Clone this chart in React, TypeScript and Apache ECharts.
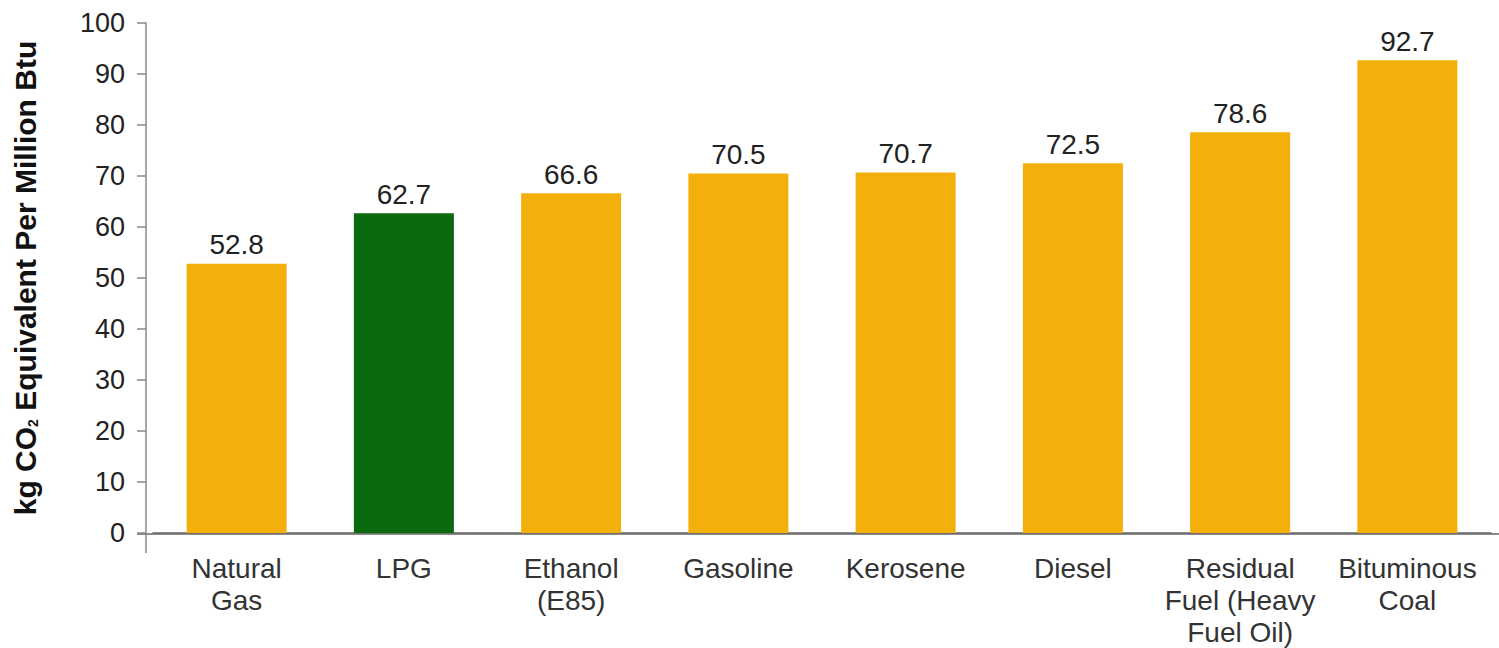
import React, { useEffect, useRef } from "react";
import * as echarts from "echarts";

const categories = [
  "Natural\nGas",
  "LPG",
  "Ethanol\n(E85)",
  "Gasoline",
  "Kerosene",
  "Diesel",
  "Residual\nFuel (Heavy\nFuel Oil)",
  "Bituminous\nCoal",
];
const values = [52.8, 62.7, 66.6, 70.5, 70.7, 72.5, 78.6, 92.7];
const highlightIndex = 1;
const yTicks = { min: 0, max: 100, interval: 10 };

const YELLOW = "#F3B00A";
const GREEN = "#0B6A10";
const FONT = "Liberation Sans, Arial, sans-serif";

export default function App() {
  const ref = useRef<HTMLDivElement>(null);
  useEffect(() => {
    if (!ref.current) return;
    const chart = echarts.init(ref.current, null, { renderer: "svg" });
    chart.setOption({
      animation: false,
      backgroundColor: "#ffffff",
      textStyle: { fontFamily: FONT },
      grid: { left: 153, right: 8, top: 23, bottom: 114, containLabel: false },
      xAxis: {
        type: "category",
        data: categories,
        axisLine: { lineStyle: { color: "#666", width: 1.5 } },
        axisTick: { show: false },
        axisLabel: {
          color: "#333",
          fontSize: 28,
          lineHeight: 32,
          margin: 19,
          fontFamily: FONT,
          interval: 0,
        },
      },
      yAxis: {
        type: "value",
        min: yTicks.min,
        max: yTicks.max,
        interval: yTicks.interval,
        offset: 7,
        splitLine: { show: false },
        axisLine: { show: true, lineStyle: { color: "#888", width: 1.5 } },
        axisTick: { show: true, length: 9, lineStyle: { color: "#888", width: 1.5 } },
        axisLabel: { color: "#222", fontSize: 27, margin: 21, fontFamily: FONT },
        name: "kg CO{sub|2} Equivalent Per Million Btu",
        nameLocation: "middle",
        nameRotate: 90,
        nameGap: 106,
        nameTextStyle: {
          fontSize: 30,
          fontWeight: "bold",
          color: "#111",
          fontFamily: FONT,
          rich: {
            sub: {
              fontSize: 14,
              fontWeight: "bold",
              color: "#111",
              verticalAlign: "bottom",
              padding: [14, 0, 0, 0],
              fontFamily: FONT,
            },
          },
        },
      },
      series: [
        {
          type: "bar",
          barWidth: 100,
          data: values.map((v, i) => ({
            value: v,
            itemStyle: { color: i === highlightIndex ? GREEN : YELLOW },
          })),
          label: {
            show: true,
            position: "top",
            distance: 5,
            color: "#222",
            fontSize: 28,
            fontFamily: FONT,
            formatter: (p: any) => p.value.toFixed(1),
          },
        },
      ],
      graphic: [
        {
          type: "line",
          shape: { x1: 146, y1: 534, x2: 146, y2: 553 },
          style: { stroke: "#888", lineWidth: 1.5 },
        },
        {
          type: "line",
          shape: { x1: 137, y1: 534, x2: 1499, y2: 534 },
          style: { stroke: "#666", lineWidth: 1.5 },
        },
      ],
    });
    return () => chart.dispose();
  }, []);
  return <div ref={ref} style={{ width: 1499, height: 648, position: "absolute", left: 0, top: 0 }} />;
}
